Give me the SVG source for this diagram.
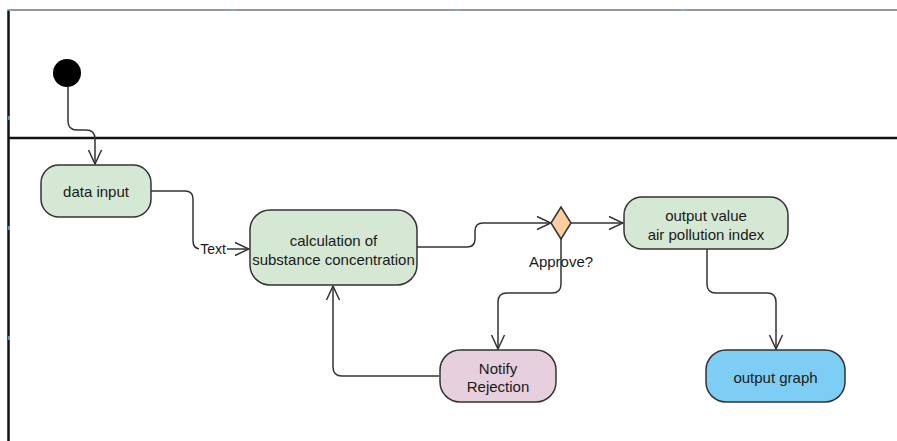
<svg xmlns="http://www.w3.org/2000/svg" width="897" height="441" viewBox="0 0 897 441">
<style>
.lane{stroke:#111;fill:none}
.node{stroke:#333;stroke-width:1.5}
.green{fill:#d5e8d4}
.pink{fill:#e6d0de}
.blue{fill:#7ecdf4}
.dia{fill:#fdcc9f}
.conn{fill:none;stroke:#333;stroke-width:1.5;marker-end:url(#arr)}
text{font-family:"Liberation Sans",Arial,sans-serif;font-size:15px;fill:#1a1a1a;text-anchor:middle;dominant-baseline:central}
.tick{stroke:#6fb6e6;stroke-width:1.5}
</style>
<defs>
<marker id="arr" viewBox="0 0 16 16" refX="15" refY="8" markerWidth="16" markerHeight="16" markerUnits="userSpaceOnUse" orient="auto">
<path d="M1,1.5 L15,8 L1,14.5" fill="none" stroke="#333" stroke-width="1.5"/>
</marker>
</defs>
<rect width="897" height="441" fill="#fff"/>
<g id="lanes">
<line class="lane" x1="8" y1="10" x2="897" y2="10" stroke-width="1.2" style="stroke:#333"/>
<line class="lane" x1="8.5" y1="10" x2="8.5" y2="441" stroke-width="2.5"/>
<line class="lane" x1="8" y1="138" x2="897" y2="138" stroke-width="2.5"/>
<path class="tick" d="M7,10 h4 M231,10 h4 M455,10 h4 M681,10 h4 M9,116 v4 M9,226 v4 M9,336 v4"/>
</g>
<g id="connectors">
<path class="conn" d="M68,87 V121 Q68,130 77,130 H86 Q95,130 95,139 V164"/>
<path class="conn" d="M151,191 H185 Q193,191 193,199 V241 Q193,249 201,249 H249"/>
<path class="conn" d="M417,247 H467 Q475,247 475,239 V231 Q475,223 483,223 H551"/>
<path class="conn" d="M571,223 H623"/>
<path class="conn" d="M561,239 V284 Q561,293 552,293 H507 Q498,293 498,302 V349"/>
<path class="conn" d="M439,376 H342 Q333,376 333,367 V286"/>
<path class="conn" d="M707,249 V284 Q707,293 716,293 H767 Q776,293 776,302 V349"/>
<rect x="199" y="241" width="28" height="16" fill="#fff"/>
<text x="213" y="249" style="font-size:14px">Text</text>
<text x="561" y="261">Approve?</text>
</g>
<g id="start">
<circle cx="67" cy="73" r="14" fill="#000"/>
</g>
<g id="data-input">
<rect class="node green" x="41" y="165" width="110" height="52" rx="18"/>
<text x="96" y="191">data input</text>
</g>
<g id="calculation">
<rect class="node green" x="250" y="210" width="167" height="75" rx="20"/>
<text x="333.5" y="240">calculation of</text>
<text x="333.5" y="259">substance concentration</text>
</g>
<g id="decision">
<polygon class="node dia" points="561,207 571,223 561,239 551,223"/>
</g>
<g id="output-value">
<rect class="node green" x="624" y="197" width="164" height="52" rx="18"/>
<text x="706" y="215">output value</text>
<text x="706" y="234">air pollution index</text>
</g>
<g id="notify-rejection">
<rect class="node pink" x="440" y="350" width="116" height="52" rx="20"/>
<text x="498" y="368">Notify</text>
<text x="498" y="386">Rejection</text>
</g>
<g id="output-graph">
<rect class="node blue" x="706" y="350" width="139" height="52" rx="20"/>
<text x="775.5" y="377">output graph</text>
</g>
</svg>
